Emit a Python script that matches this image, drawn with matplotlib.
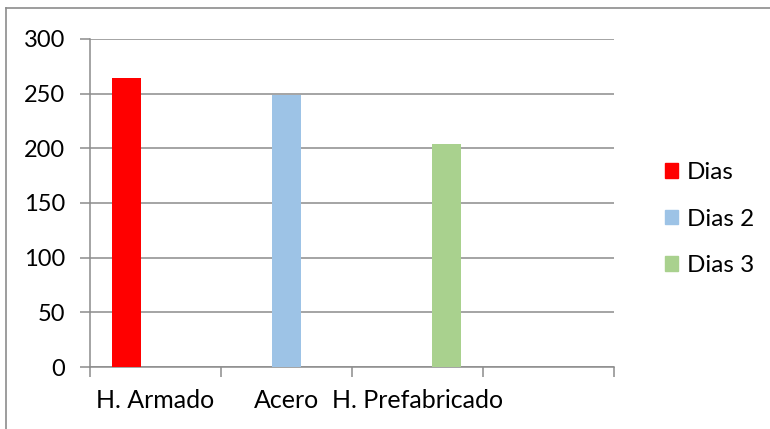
import matplotlib
matplotlib.use("Agg")
import matplotlib.pyplot as plt
from matplotlib.lines import Line2D
from matplotlib.patches import Patch

plt.rcParams['font.family'] = ['Lato', 'DejaVu Sans']

categories = ['H. Armado', 'Acero', 'H. Prefabricado', '']
series_names = ['Dias', 'Dias 2', 'Dias 3']
series_values = [
    [264, 0, 0, 0],
    [0, 249, 0, 0],
    [0, 0, 204, 0],
]
colors = ['#ff0000', '#9dc3e6', '#a9d18e']

fig = plt.figure(figsize=(7.7, 4.29), dpi=100)
ax = fig.add_axes([90/770, 62/429, 524/770, 328/429])

bw = 0.222
xs = list(range(len(categories)))
for i, (vals, c) in enumerate(zip(series_values, colors)):
    pos = [x + (i - 1) * bw for x in xs]
    ax.bar(pos, vals, width=bw, color=c, label=series_names[i], zorder=3)

ax.set_xlim(-0.5, len(categories) - 0.5)
ax.set_ylim(0, 300)
ax.set_yticks(range(0, 301, 50))
ax.yaxis.grid(True, color='#8c8c8c', linewidth=1.1, zorder=0)

# category labels in the middle, tick marks on the boundaries
ax.set_xticks(xs)
ax.set_xticklabels(categories, fontsize=18)
ax.tick_params(axis='x', length=0, pad=16)
ax.set_xticks([x + 0.5 for x in [-1] + xs], minor=True)
ax.tick_params(axis='x', which='minor', length=7, color='#8c8c8c', width=1.1)
ax.tick_params(axis='y', length=7, color='#8c8c8c', width=1.1, labelsize=17, pad=11)

for s in ['top', 'right']:
    ax.spines[s].set_visible(False)
for s in ['left', 'bottom']:
    ax.spines[s].set_color('#8c8c8c')
    ax.spines[s].set_linewidth(1.1)

handles = [Patch(color=c) for c in colors]
fig.legend(handles, series_names, loc='center left', bbox_to_anchor=(643/770, 1 - 219/429),
           frameon=False, fontsize=17.5, handlelength=0.55, handleheight=0.55,
           labelspacing=1.05, handletextpad=0.35)

# outer chart border (partly cut off)
fig.add_artist(Line2D([6/770, 6/770], [0, 1 - 8/429], color='#8c8c8c', linewidth=1.2))
fig.add_artist(Line2D([6/770, 1], [1 - 8/429, 1 - 8/429], color='#8c8c8c', linewidth=1.2))

fig.savefig('out.png', dpi=100)
